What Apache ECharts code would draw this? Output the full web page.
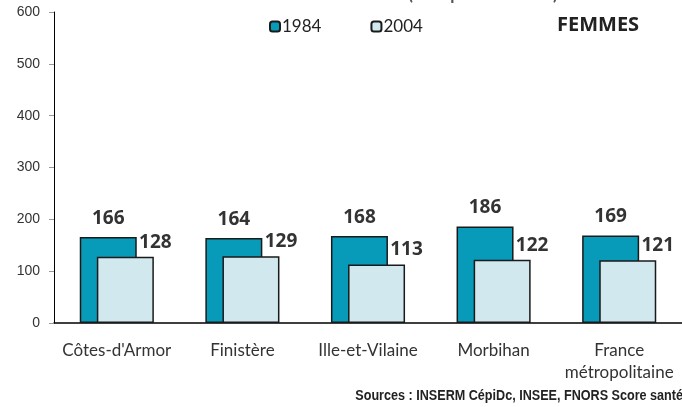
<!DOCTYPE html>
<html>
<head>
<meta charset="utf-8">
<script src="https://cdn.jsdelivr.net/npm/echarts@6/dist/echarts.min.js"></script>
<style>
  html, body { margin:0; padding:0; background:#fff; }
  #main { width:682px; height:407px; }
</style>
</head>
<body>
<div id="main"></div>
<script>
// données
const categories = ["Côtes-d'Armor", 'Finistère', 'Ille-et-Vilaine', 'Morbihan', 'France\nmétropolitaine']
const values1984 = [166, 164, 168, 186, 169]
const values2004 = [128, 129, 113, 122, 121]
const yTicks = { min: 0, max: 600, interval: 100 }

const chart = echarts.init(document.getElementById('main'))
chart.setOption({
  animation: false,
  backgroundColor: '#fff',
  title: {
    text: 'Taux de mortalité 1984 - 2004 (taux pour 100 000)',
    left: 170, top: -19,
    textStyle: { fontFamily: 'Lato', fontSize: 17, fontWeight: 'bold', color: '#555' }
  },
  graphic: [
    { type:'text', left: 557, top: 15,
      style: { text:'FEMMES', font:'bold 20px "Open Sans"', fill:'#222' } },
    // source, texte condensé
    { type:'text', x: 683, y: 389, scaleX: 0.9, originX: 0,
      style: { text:'Sources : INSERM CépiDc, INSEE, FNORS Score santé', align: 'right',
               font:'bold 14px "Liberation Sans"', fill:'#222' } }
  ],
  legend: {
    left: 264, top: 13,
    itemWidth: 10, itemHeight: 10, itemGap: 49,
    textStyle: { fontFamily: 'Lato', fontSize: 17, color: '#222', padding: [0,0,0,-3] }
  },
  grid: { left: 54, right: -7, top: 12, bottom: 84 },
  xAxis: {
    type: 'category',
    data: categories,
    axisLine: { lineStyle: { color: '#000', width: 1.5 } },
    axisTick: { lineStyle: { color: '#bbb' }, length: 5 },
    axisLabel: { interval: 0, fontFamily: 'Lato', fontSize: 17, color: '#333', margin: 17, lineHeight: 22 }
  },
  yAxis: {
    type: 'value',
    min: yTicks.min, max: yTicks.max, interval: yTicks.interval,
    splitLine: { show: false },
    axisLine: { show: true, lineStyle: { color: '#000' } },
    axisTick: { show: true, length: 5, lineStyle: { color: '#999' } },
    axisLabel: { fontFamily: 'Liberation Sans', fontSize: 14, color: '#333', margin: 14 }
  },
  series: [
    {
      name: '1984', type: 'bar', data: values1984,
      barWidth: 57, barGap: '-70%',
      itemStyle: { color: '#089ab9', borderColor: '#1a1a1a', borderWidth: 1.5 },
      label: { show: true, position: 'top', distance: 9,
               fontFamily: 'Open Sans', fontWeight: 'bold', fontSize: 19, color: '#333' }
    },
    {
      name: '2004', type: 'bar', data: values2004,
      barWidth: 57,
      itemStyle: { color: '#d1e8ef', borderColor: '#1a1a1a', borderWidth: 1.5 },
      label: { show: true, position: 'top', distance: 5, offset: [30, 0],
               fontFamily: 'Open Sans', fontWeight: 'bold', fontSize: 19, color: '#333' }
    }
  ]
})
</script>
</body>
</html>
